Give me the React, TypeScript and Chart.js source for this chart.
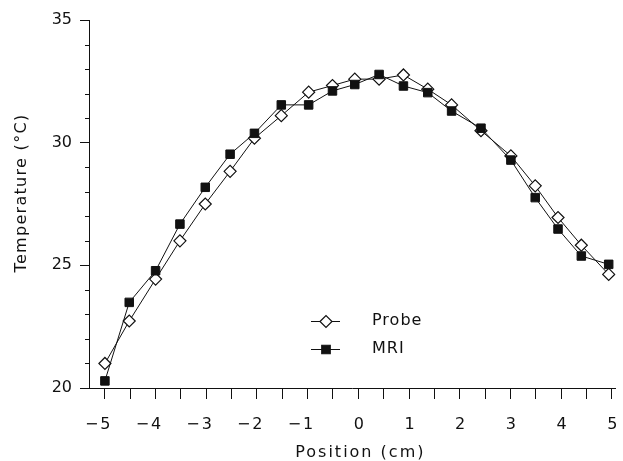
import React, { useEffect, useRef } from 'react';
import { Chart, registerables } from 'chart.js';

Chart.register(...registerables);

// ---- data ----
const positions = [-5, -4.52, -4, -3.52, -3.02, -2.53, -2.05, -1.52, -0.98, -0.51, -0.07, 0.41, 0.89, 1.37, 1.84, 2.42, 3.01, 3.49, 3.94, 4.4, 4.94];
const probeValues = [21.0, 22.73, 24.44, 26.0, 27.5, 28.83, 30.18, 31.1, 32.06, 32.33, 32.59, 32.59, 32.76, 32.18, 31.54, 30.49, 29.46, 28.24, 26.95, 25.82, 24.63];
const mriValues = [20.29, 23.49, 24.78, 26.68, 28.18, 29.53, 30.38, 31.54, 31.54, 32.11, 32.37, 32.78, 32.31, 32.04, 31.29, 30.59, 29.29, 27.76, 26.48, 25.38, 25.04];
const xTickValues = [-5, -4.5, -4, -3.5, -3, -2.5, -2, -1.5, -1, -0.5, 0, 0.5, 1, 1.5, 2, 2.5, 3, 3.5, 4, 4.5, 5];
const xLabelValues = [-5, -4, -3, -2, -1, 0, 1, 2, 3, 4, 5];
const yTickValues = [20, 25, 30, 35];
const yMinorTickValues = [21, 22, 23, 24, 26, 27, 28, 29, 31, 32, 33, 34];
const seriesNames = ['Probe', 'MRI'];
const xTitle = 'Position (cm)';
const yTitle = 'Temperature (\u00B0C)';

const FONT = '"DejaVu Sans", "Liberation Sans", sans-serif';
const INK = '#111';

function drawMarker(ctx: CanvasRenderingContext2D, style: string, x: number, y: number, r: number, fill: string) {
  ctx.save();
  ctx.beginPath();
  if (style === 'rectRot') {
    ctx.moveTo(x - r, y);
    ctx.lineTo(x, y - r);
    ctx.lineTo(x + r, y);
    ctx.lineTo(x, y + r);
    ctx.closePath();
  } else {
    const s = r * Math.SQRT1_2;
    ctx.rect(x - s, y - s, 2 * s, 2 * s);
  }
  ctx.fillStyle = fill;
  ctx.fill();
  ctx.lineWidth = 1.2;
  ctx.strokeStyle = INK;
  ctx.stroke();
  ctx.restore();
}

const decorPlugin = {
  id: 'decor',
  afterDraw(chart: any) {
    const ctx: any = chart.ctx;
    const y = chart.scales.y;
    const x = chart.scales.x;
    const left = chart.chartArea.left;
    // minor y ticks
    ctx.save();
    ctx.strokeStyle = INK;
    ctx.lineWidth = 1;
    yMinorTickValues.forEach((v) => {
      const py = Math.round(y.getPixelForValue(v)) + 0.5;
      ctx.beginPath();
      ctx.moveTo(left - 4, py);
      ctx.lineTo(left, py);
      ctx.stroke();
    });
    ctx.restore();

    // x tick labels: digit centred on the tick, minus sign hanging to the left
    ctx.save();
    ctx.fillStyle = INK;
    ctx.font = `16px ${FONT}`;
    ctx.textBaseline = 'middle';
    xLabelValues.forEach((v) => {
      const px = x.getPixelForValue(v);
      const digits = String(Math.abs(v));
      ctx.textAlign = 'center';
      ctx.fillText(digits, px + 0.5, 425);
      if (v < 0) {
        ctx.textAlign = 'right';
        ctx.fillText('\u2212', px - 6.5, 425);
      }
    });
    ctx.restore();

    // x title centred on the zero position
    ctx.save();
    ctx.fillStyle = INK;
    ctx.font = `16px ${FONT}`;
    ctx.letterSpacing = '2px';
    ctx.textAlign = 'center';
    ctx.textBaseline = 'middle';
    ctx.fillText(xTitle, x.getPixelForValue(0) + 2, 453);
    ctx.restore();

    // y title
    ctx.save();
    ctx.fillStyle = INK;
    ctx.font = `16px ${FONT}`;
    ctx.letterSpacing = '1.3px';
    ctx.textAlign = 'center';
    ctx.textBaseline = 'middle';
    ctx.translate(22, y.getPixelForValue(27.5) - 11);
    ctx.rotate(-Math.PI / 2);
    ctx.fillText(yTitle, 0, 0);
    ctx.restore();

    // legend
    const rows = [
      { name: seriesNames[0], style: 'rectRot', fill: '#fff', y: 321 },
      { name: seriesNames[1], style: 'rect', fill: INK, y: 349 },
    ];
    rows.forEach((r) => {
      ctx.save();
      ctx.strokeStyle = INK;
      ctx.lineWidth = 1;
      ctx.beginPath();
      ctx.moveTo(311, r.y + 0.5);
      ctx.lineTo(340, r.y + 0.5);
      ctx.stroke();
      drawMarker(ctx, r.style, 326, r.y + 0.5, 6, r.fill);
      ctx.fillStyle = INK;
      ctx.font = `16px ${FONT}`;
      ctx.letterSpacing = '1px';
      ctx.textAlign = 'left';
      ctx.textBaseline = 'middle';
      ctx.fillText(r.name, 372, r.y);
      ctx.restore();
    });
  },
};

export default function App() {
  const ref = useRef<HTMLCanvasElement | null>(null);

  useEffect(() => {
    document.body.style.margin = '0';
    const canvas = ref.current;
    if (!canvas) return;
    const chart = new Chart(canvas, {
      type: 'line',
      data: {
        datasets: [
          {
            label: seriesNames[0],
            data: positions.map((p, i) => ({ x: p, y: probeValues[i] })),
            borderColor: INK,
            borderWidth: 1,
            pointStyle: 'rectRot',
            pointRadius: 6,
            pointBackgroundColor: '#fff',
            pointBorderColor: INK,
            pointBorderWidth: 1.2,
            tension: 0,
            order: 2,
          },
          {
            label: seriesNames[1],
            data: positions.map((p, i) => ({ x: p, y: mriValues[i] })),
            borderColor: INK,
            borderWidth: 1,
            pointStyle: 'rect',
            pointRadius: 6,
            pointBackgroundColor: INK,
            pointBorderColor: INK,
            pointBorderWidth: 1,
            tension: 0,
            order: 1,
          },
        ],
      },
      options: {
        animation: false,
        responsive: false,
        devicePixelRatio: 1,
        layout: { padding: { top: 20, right: 3, left: 0, bottom: 0 } },
        plugins: {
          legend: { display: false },
          tooltip: { enabled: false },
        },
        scales: {
          x: {
            type: 'linear',
            min: -5.314,
            max: 5.08,
            afterBuildTicks: (scale: any) => {
              scale.ticks = xTickValues.map((value) => ({ value }));
            },
            afterFit: (scale: any) => {
              scale.height = 73;
            },
            grid: { drawOnChartArea: false, tickLength: 11, color: INK, tickColor: INK },
            border: { color: INK, width: 1 },
            ticks: { display: false },
          },
          y: {
            type: 'linear',
            min: 20,
            max: 35,
            afterBuildTicks: (scale: any) => {
              scale.ticks = yTickValues.map((value) => ({ value }));
            },
            afterFit: (scale: any) => {
              scale.width = 89;
            },
            grid: { drawOnChartArea: false, tickLength: 9, color: INK, tickColor: INK },
            border: { color: INK, width: 1 },
            ticks: {
              padding: 8,
              color: INK,
              font: { family: FONT, size: 16 },
              callback: (v: any) => String(v),
            },
          },
        },
      },
      plugins: [decorPlugin],
    } as any);
    return () => chart.destroy();
  }, []);

  return (
    <div style={{ position: 'absolute', left: 0, top: 0, width: 623, height: 461, background: '#fff' }}>
      <canvas ref={ref} width={623} height={461} style={{ display: 'block' }} />
    </div>
  );
}
